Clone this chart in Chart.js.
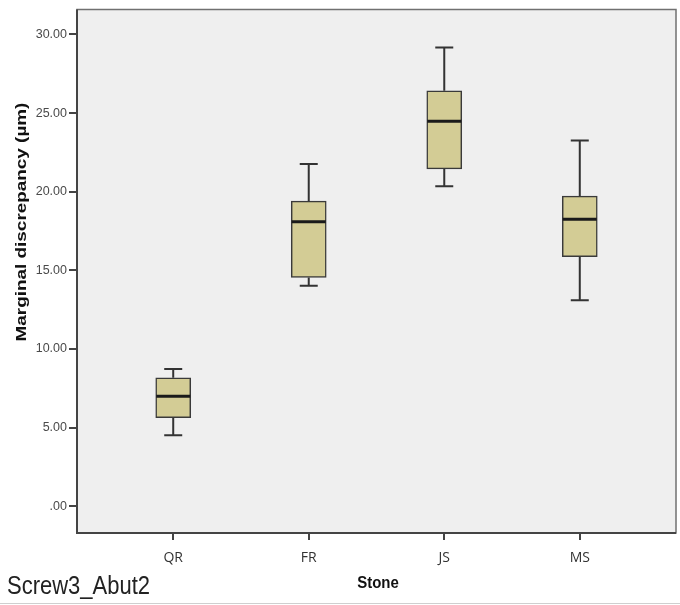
<!DOCTYPE html>
<html>
<head>
<meta charset="utf-8">
<script src="https://cdn.jsdelivr.net/npm/chart.js@4.4.1/dist/chart.umd.min.js"></script>
<style>
    body { margin: 0; background: #fff; }
    #wrap { width: 680px; height: 605px; }
</style>
</head>
<body>
<div id="wrap"><canvas id="myChart" width="680" height="605"></canvas></div>
<script>
// Values (µm)
const stones = ['QR', 'FR', 'JS', 'MS'];
const whiskerLow = [4.50, 14.01, 20.35, 13.10];
const q1 = [5.62, 14.54, 21.45, 15.87];
const medians = [6.99, 18.09, 24.48, 18.24];
const q3 = [8.16, 19.40, 26.42, 19.72];
const whiskerHigh = [8.73, 21.77, 29.17, 23.25];
const yTicks = [0, 5, 10, 15, 20, 25, 30];

// draw text with a stretch factor (the source picture is a bit stretched)
function drawStretched(ctx, text, x, y, rot, sx, sy) {
    ctx.save();
    ctx.translate(x, y);
    ctx.rotate(rot);
    ctx.scale(sx, sy);
    ctx.fillText(text, 0, 0);
    ctx.restore();
}

const boxExtras = {
    id: 'boxExtras',
    beforeDraw(chart) {
        const { ctx, chartArea: a } = chart;
        ctx.save();
        ctx.fillStyle = '#ffffff';
        ctx.fillRect(0, 0, chart.width, chart.height);
        ctx.fillStyle = '#efefef';
        ctx.fillRect(a.left, a.top, a.right - a.left, a.bottom - a.top);
        ctx.restore();
    },
    afterDatasetsDraw(chart) {
        const { ctx, scales: { x, y } } = chart;
        ctx.save();
        ctx.strokeStyle = '#333';
        stones.forEach((s, i) => {
            const cx = x.getPixelForValue(i);

            // whiskers
            ctx.lineWidth = 2;
            ctx.beginPath();
            ctx.moveTo(cx, y.getPixelForValue(q3[i]));
            ctx.lineTo(cx, y.getPixelForValue(whiskerHigh[i]));
            ctx.moveTo(cx, y.getPixelForValue(q1[i]));
            ctx.lineTo(cx, y.getPixelForValue(whiskerLow[i]));
            ctx.moveTo(cx - 9, y.getPixelForValue(whiskerHigh[i]));
            ctx.lineTo(cx + 9, y.getPixelForValue(whiskerHigh[i]));
            ctx.moveTo(cx - 9, y.getPixelForValue(whiskerLow[i]));
            ctx.lineTo(cx + 9, y.getPixelForValue(whiskerLow[i]));
            ctx.stroke();

            // median
            ctx.lineWidth = 3;
            ctx.strokeStyle = '#1a1a1a';
            ctx.beginPath();
            ctx.moveTo(cx - 17, y.getPixelForValue(medians[i]));
            ctx.lineTo(cx + 17, y.getPixelForValue(medians[i]));
            ctx.stroke();
            ctx.strokeStyle = '#333';
        });
        ctx.restore();
    },
    afterDraw(chart) {
        const { ctx, chartArea: a } = chart;
        ctx.save();
        // plot frame
        ctx.strokeStyle = '#707070';
        ctx.lineWidth = 1.5;
        ctx.strokeRect(a.left, a.top, a.right - a.left, a.bottom - a.top);
        ctx.strokeStyle = '#444';
        ctx.lineWidth = 2;
        ctx.beginPath();
        ctx.moveTo(a.left, a.top);
        ctx.lineTo(a.left, a.bottom);
        ctx.lineTo(a.right, a.bottom);
        ctx.stroke();

        // titles
        ctx.fillStyle = '#111';
        ctx.textAlign = 'center';
        ctx.textBaseline = 'middle';
        ctx.font = 'bold 14px "Liberation Sans", Arial, sans-serif';
        drawStretched(ctx, 'Marginal discrepancy (µm)', 22, 222, -Math.PI / 2, 1.35, 1);

        ctx.font = 'bold 15px "Liberation Sans", Arial, sans-serif';
        drawStretched(ctx, 'Stone', 378, 583, 0, 1, 1.1);

        ctx.textAlign = 'left';
        ctx.textBaseline = 'alphabetic';
        ctx.fillStyle = '#222';
        ctx.font = '22px "Liberation Sans", Arial, sans-serif';
        drawStretched(ctx, 'Screw3_Abut2', 7, 594, 0, 1, 1.15);

        // faint line at the very bottom
        ctx.strokeStyle = '#cfcfcf';
        ctx.lineWidth = 1;
        ctx.beginPath();
        ctx.moveTo(0, 603.5);
        ctx.lineTo(chart.width, 603.5);
        ctx.stroke();
        ctx.restore();
    }
};

const ctx = document.getElementById('myChart').getContext('2d');
new Chart(ctx, {
    type: 'bar',
    data: {
        datasets: [{
            data: stones.map((s, i) => ({ x: i, y: [q1[i], q3[i]] })),
            backgroundColor: '#d3cc95',
            borderColor: '#3a3a3a',
            borderWidth: 1.5,
            borderSkipped: false,
            barThickness: 35
        }]
    },
    options: {
        responsive: false,
        animation: false,
        layout: { padding: { top: 8, right: 4, left: 0, bottom: 0 } },
        plugins: {
            legend: { display: false },
            tooltip: { enabled: false }
        },
        scales: {
            x: {
                type: 'linear',
                min: -0.71,
                max: 3.71,
                offset: false,
                afterFit: s => { s.height = 72; },
                afterBuildTicks: s => { s.ticks = stones.map((c, i) => ({ value: i })); },
                grid: { offset: false, drawOnChartArea: false, drawTicks: true, tickLength: 7, color: '#444', lineWidth: 2 },
                border: { display: false },
                ticks: {
                    padding: 10,
                    color: '#333',
                    font: { family: '"Open Sans", sans-serif', size: 14 },
                    callback: v => stones[v]
                }
            },
            y: {
                min: -1.71,
                max: 31.59,
                afterFit: s => { s.width = 77; },
                afterBuildTicks: s => { s.ticks = yTicks.map(v => ({ value: v })); },
                grid: { drawOnChartArea: false, drawTicks: true, tickLength: 8, color: '#444', lineWidth: 2 },
                border: { display: false },
                ticks: {
                    padding: 2,
                    color: '#4a4a4a',
                    font: { family: '"Liberation Sans", Arial, sans-serif', size: 12.5 },
                    callback: v => v === 0 ? '.00' : v.toFixed(2)
                }
            }
        }
    },
    plugins: [boxExtras]
});
</script>
</body>
</html>
